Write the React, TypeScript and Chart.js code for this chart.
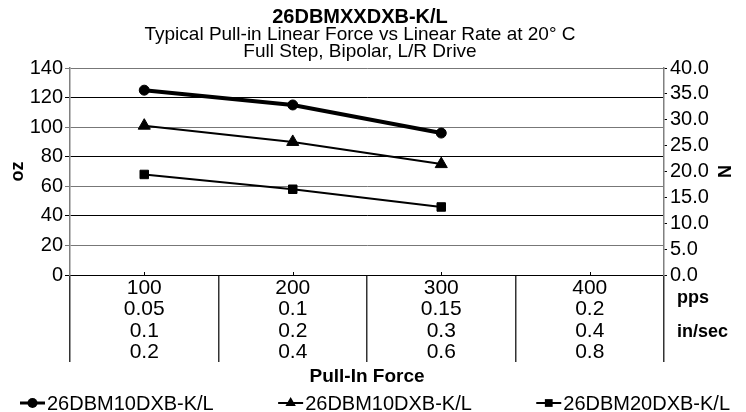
import React, { useEffect, useRef } from 'react';
import { Chart, registerables } from 'chart.js';

Chart.register(...registerables);

const FONT = '"Liberation Sans", Arial, Helvetica, sans-serif';

const chartTitle = '26DBMXXDXB-K/L';
const chartSubtitle = ['Typical Pull-in Linear Force vs Linear Rate at 20° C', 'Full Step, Bipolar, L/R Drive'];

const ppsValues = ['100', '200', '300', '400'];
const rateRowA = ['0.05', '0.1', '0.15', '0.2'];
const rateRowB = ['0.1', '0.2', '0.3', '0.4'];
const rateRowC = ['0.2', '0.4', '0.6', '0.8'];
const rowLabels = ['pps', 'in/sec'];

const seriesNames = ['26DBM10DXB-K/L', '26DBM10DXB-K/L', '26DBM20DXB-K/L'];
const series1 = [125, 115, 96, null];
const series2 = [101, 90, 75, null];
const series3 = [68, 58, 46, null];

const ozMin = 0;
const ozMax = 140;
const ozStep = 20;
const nMin = 0;
const nMax = 40;
const nStep = 5;

const xTitle = 'Pull-In Force';
const yLeftTitle = 'oz';
const yRightTitle = 'N';

function drawMarker(ctx: CanvasRenderingContext2D, style: string, x: number, y: number, r: number) {
  ctx.beginPath();
  if (style === 'circle') {
    ctx.arc(x, y, r, 0, Math.PI * 2);
  } else if (style === 'triangle') {
    ctx.moveTo(x, y - r);
    ctx.lineTo(x + 0.866 * r, y + 0.5 * r);
    ctx.lineTo(x - 0.866 * r, y + 0.5 * r);
    ctx.closePath();
  } else {
    const s = r * Math.SQRT1_2;
    ctx.rect(x - s, y - s, 2 * s, 2 * s);
  }
  ctx.fill();
}

const decor = {
  id: 'decor',
  afterDraw(chart: any) {
    const ctx: CanvasRenderingContext2D = chart.ctx;
    const xs = chart.scales.x;
    const area = chart.chartArea;
    ctx.save();
    ctx.fillStyle = '#000';
    ctx.strokeStyle = '#000';

    // titles
    ctx.textAlign = 'center';
    ctx.textBaseline = 'alphabetic';
    const cx = 360;
    ctx.font = `bold 20px ${FONT}`;
    ctx.fillText(chartTitle, cx, 23);
    ctx.font = `19px ${FONT}`;
    ctx.fillText(chartSubtitle[0], cx, 40);
    ctx.fillText(chartSubtitle[1], cx, 57);

    // row labels at right of category table
    ctx.textAlign = 'left';
    ctx.textBaseline = 'middle';
    ctx.font = `bold 18px ${FONT}`;
    ctx.fillText(rowLabels[0], area.right + 13, xs.top + 23);
    ctx.fillText(rowLabels[1], area.right + 13, xs.top + 57);

    // small center tick marks on x axis
    ctx.lineWidth = 1;
    for (let i = 0; i < ppsValues.length; i++) {
      const px = Math.round(xs.getPixelForValue(i)) + 0.5;
      ctx.beginPath();
      ctx.moveTo(px, area.bottom - 3);
      ctx.lineTo(px, area.bottom);
      ctx.stroke();
    }

    // legend
    const lineLen = 25;
    const gap = 2;
    ctx.font = `20px ${FONT}`;
    const datasets = chart.data.datasets;
    const widths = datasets.map((d: any) => lineLen + gap + ctx.measureText(d.label).width);
    const startX = 20;
    const endX = 730;
    const total = widths.reduce((a: number, b: number) => a + b, 0);
    const spacing = (endX - startX - total) / (datasets.length - 1);
    let x = startX;
    const ly = 403;
    datasets.forEach((d: any, i: number) => {
      ctx.lineWidth = Math.min(d.borderWidth, 3);
      ctx.beginPath();
      ctx.moveTo(x, ly);
      ctx.lineTo(x + lineLen, ly);
      ctx.stroke();
      drawMarker(ctx, d.pointStyle, x + lineLen / 2, ly, d.legendRadius);
      ctx.textBaseline = 'alphabetic';
      ctx.fillText(d.label, x + lineLen + gap, 410);
      x += widths[i] + spacing;
    });
    ctx.restore();
  },
};

export default function App() {
  const ref = useRef<HTMLCanvasElement>(null);
  useEffect(() => {
    document.body.style.margin = '0';
    const chart = new Chart(ref.current as HTMLCanvasElement, {
      type: 'line',
      data: {
        labels: ppsValues.map((v, i) => [v, rateRowA[i], rateRowB[i], rateRowC[i]]),
        datasets: [
          {
            label: seriesNames[0],
            data: series1,
            borderColor: '#000',
            backgroundColor: '#000',
            borderWidth: 4,
            pointStyle: 'circle',
            pointRadius: 5,
            pointBorderWidth: 1,
            yAxisID: 'y',
            legendRadius: 5,
          } as any,
          {
            label: seriesNames[1],
            data: series2,
            borderColor: '#000',
            backgroundColor: '#000',
            borderWidth: 2,
            pointStyle: 'triangle',
            pointRadius: 7,
            pointBorderWidth: 1,
            yAxisID: 'y',
            legendRadius: 6,
          } as any,
          {
            label: seriesNames[2],
            data: series3,
            borderColor: '#000',
            backgroundColor: '#000',
            borderWidth: 2,
            pointStyle: 'rect',
            pointRadius: 6,
            pointBorderWidth: 1,
            yAxisID: 'y',
            legendRadius: 5.5,
          } as any,
        ],
      },
      options: {
        animation: false,
        responsive: true,
        maintainAspectRatio: false,
        layout: { padding: { top: 68, bottom: 24, left: 0, right: 0 } },
        plugins: {
          legend: { display: false },
          title: { display: false },
          tooltip: { enabled: false },
        },
        scales: {
          x: {
            type: 'category',
            offset: true,
            grid: {
              drawOnChartArea: false,
              drawTicks: true,
              tickLength: 87,
              offset: true,
              color: '#333',
              lineWidth: 1.5,
            },
            border: { display: true, color: '#000', width: 1 },
            ticks: {
              font: { family: FONT, size: 21, lineHeight: 1.024 },
              color: '#000',
              padding: -85,
              maxRotation: 0,
              autoSkip: false,
            },
            title: {
              display: true,
              text: xTitle,
              font: { family: FONT, size: 19, weight: 'bold' },
              color: '#000',
              padding: { top: 0, bottom: 0 },
            },
            afterFit: (s: any) => {
              s.height = 113;
            },
          },
          y: {
            position: 'left',
            min: ozMin,
            max: ozMax,
            ticks: {
              stepSize: ozStep,
              font: { family: FONT, size: 20 },
              color: '#000',
              padding: 2,
              autoSkip: false,
            },
            grid: {
              color: (c: any) => (c.tick && c.tick.value % 40 === 0 ? '#000' : '#777'),
              tickLength: 5,
              lineWidth: 1,
            },
            border: { color: '#808080', width: 1.5 },
            title: {
              display: true,
              text: yLeftTitle,
              font: { family: FONT, size: 18, weight: 'bold' },
              color: '#000',
              padding: { top: 7, bottom: 0 },
            },
            afterFit: (s: any) => {
              s.width = 70;
            },
          },
          y1: {
            position: 'right',
            min: nMin,
            max: nMax,
            ticks: {
              stepSize: nStep,
              font: { family: FONT, size: 20 },
              color: '#000',
              padding: 3,
              autoSkip: false,
              callback: (v: any) => Number(v).toFixed(1),
            },
            grid: { drawOnChartArea: false, tickLength: 3, color: '#000' },
            border: { color: '#808080', width: 1.5 },
            title: {
              display: true,
              text: yRightTitle,
              font: { family: FONT, size: 18, weight: 'bold' },
              color: '#000',
              padding: { top: 12, bottom: 0 },
            },
            afterFit: (s: any) => {
              s.width = 82;
            },
          },
        },
      } as any,
      plugins: [decor],
    });
    return () => chart.destroy();
  }, []);
  return (
    <div style={{ width: 746, height: 412, position: 'relative' }}>
      <canvas ref={ref} />
    </div>
  );
}
